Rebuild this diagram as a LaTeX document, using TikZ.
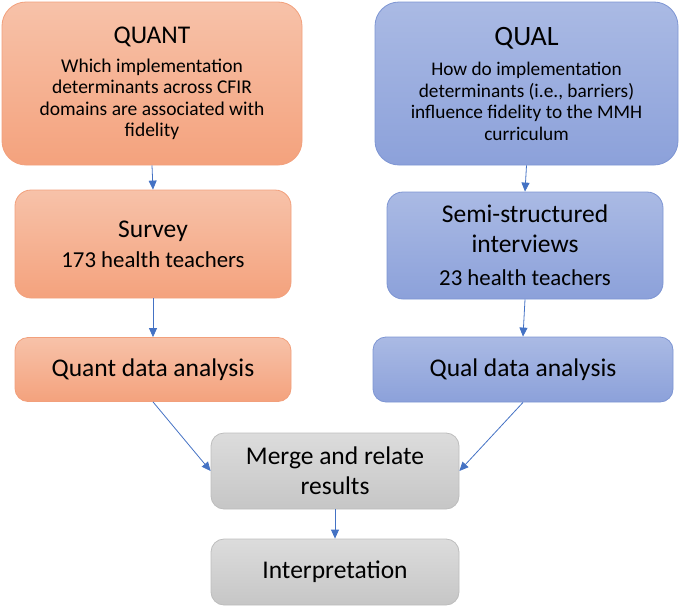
\documentclass[tikz,border=0pt]{standalone}
\usepackage{fontspec}
\setmainfont{Carlito}
\usetikzlibrary{arrows.meta}
\definecolor{orTop}{HTML}{F7C2A9}
\definecolor{orBot}{HTML}{F4A27D}
\definecolor{orLine}{HTML}{F2A07C}
\definecolor{blTop}{HTML}{AABAE4}
\definecolor{blBot}{HTML}{8CA1DA}
\definecolor{blLine}{HTML}{7D95D3}
\definecolor{grTop}{HTML}{DCDCDC}
\definecolor{grBot}{HTML}{C6C6C6}
\definecolor{grLine}{HTML}{BDBDBD}
\definecolor{arr}{HTML}{4472C4}
\tikzset{
  box/.style={rectangle, draw, line width=0.8pt, align=center, inner sep=0pt, text=black},
  orbox/.style={box, top color=orTop, bottom color=orBot, draw=orLine},
  blbox/.style={box, top color=blTop, bottom color=blBot, draw=blLine},
  grbox/.style={box, top color=grTop, bottom color=grBot, draw=grLine},
  conn/.style={draw=arr, line width=0.8pt, -{Triangle[length=9pt,width=8pt]}},
  big/.style={font=\fontsize{25.5}{30}\selectfont},
}
\begin{document}
\begin{tikzpicture}[x=1pt,y=-1pt]
\useasboundingbox (0,0) rectangle (680,608);
% top boxes
\node[orbox, rounded corners=24pt, minimum width=300pt, minimum height=163pt,
  font=\fontsize{19.5}{21.5}\selectfont] (quant) at (152,83.5)
  {{\fontsize{25.5}{30}\selectfont QUANT}\\[7pt]Which implementation\\determinants across CFIR\\domains are associated with\\fidelity};
\node[blbox, rounded corners=24pt, minimum width=303pt, minimum height=163pt,
  font=\fontsize{19.3}{21.5}\selectfont] (qual) at (526.5,83.5)
  {{\fontsize{28}{32}\selectfont QUAL}\\[9pt]How do implementation\\determinants (i.e., barriers)\\influence fidelity to the MMH\\curriculum};
% middle boxes
\node[orbox, rounded corners=16pt, minimum width=276pt, minimum height=108pt, big] (survey) at (153,244)
  {Survey\\{\fontsize{22.8}{27}\selectfont 173 health teachers}};
\node[blbox, rounded corners=16pt, minimum width=276pt, minimum height=107pt, big] (semi) at (525,245.5)
  {Semi-structured\\interviews\\[3pt]{\fontsize{22.8}{27}\selectfont 23 health teachers}};
% analysis boxes
\node[orbox, rounded corners=13pt, minimum width=276pt, minimum height=64pt, big] (qndata) at (153,369.5)
  {Quant data analysis};
\node[blbox, rounded corners=13pt, minimum width=300pt, minimum height=65pt, big] (qldata) at (523,369.5)
  {Qual data analysis};
% bottom boxes
\node[grbox, rounded corners=13pt, minimum width=248pt, minimum height=76pt, big] (merge) at (335,471)
  {Merge and relate\\results};
\node[grbox, rounded corners=13pt, minimum width=248pt, minimum height=66pt, big] (interp) at (335,572)
  {Interpretation};
% connectors
\draw[conn] (quant.south) -- (survey.north);
\draw[conn] (survey.south) -- (qndata.north);
\draw[conn] (qual.south) -- (semi.north);
\draw[conn] (semi.south) -- (qldata.north);
\draw[conn] (qndata.south) -- (merge.west);
\draw[conn] (qldata.south) -- (merge.east);
\draw[conn] (merge.south) -- (interp.north);
\end{tikzpicture}
\end{document}
